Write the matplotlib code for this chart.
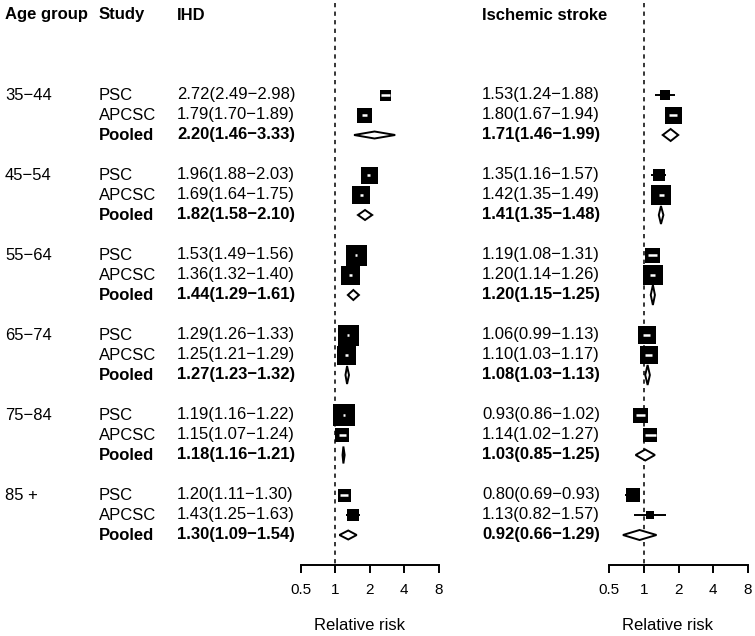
import numpy as np
import matplotlib.pyplot as plt

plt.rcParams['font.family'] = ['Liberation Sans', 'DejaVu Sans']

age_groups = ["35\u221244", "45\u221254", "55\u221264", "65\u221274", "75\u221284", "85 +"]
studies = ["PSC", "APCSC", "Pooled"]

# IHD: estimate, lower, upper (PSC, APCSC, Pooled per age group)
ihd_est = [2.72, 1.79, 2.20, 1.96, 1.69, 1.82, 1.53, 1.36, 1.44,
           1.29, 1.25, 1.27, 1.19, 1.15, 1.18, 1.20, 1.43, 1.30]
ihd_lo = [2.49, 1.70, 1.46, 1.88, 1.64, 1.58, 1.49, 1.32, 1.29,
          1.26, 1.21, 1.23, 1.16, 1.07, 1.16, 1.11, 1.25, 1.09]
ihd_hi = [2.98, 1.89, 3.33, 2.03, 1.75, 2.10, 1.56, 1.40, 1.61,
          1.33, 1.29, 1.32, 1.22, 1.24, 1.21, 1.30, 1.63, 1.54]

# Ischemic stroke
isc_est = [1.53, 1.80, 1.71, 1.35, 1.42, 1.41, 1.19, 1.20, 1.20,
           1.06, 1.10, 1.08, 0.93, 1.14, 1.03, 0.80, 1.13, 0.92]
isc_lo = [1.24, 1.67, 1.46, 1.16, 1.35, 1.35, 1.08, 1.14, 1.15,
          0.99, 1.03, 1.03, 0.86, 1.02, 0.85, 0.69, 0.82, 0.66]
isc_hi = [1.88, 1.94, 1.99, 1.57, 1.49, 1.48, 1.31, 1.26, 1.25,
          1.13, 1.17, 1.13, 1.02, 1.27, 1.25, 0.93, 1.57, 1.29]

# box / diamond heights (px) as drawn
ihd_size = [11, 15, 7, 17, 18, 10, 21, 19, 10, 21, 19, 18, 22, 14, 17, 13, 12, 9]
isc_size = [10, 17, 12, 12, 20, 18, 15, 20, 20, 18, 18, 20, 15, 14, 11, 14, 8, 10]

ticks = [0.5, 1, 2, 4, 8]

W, H = 755, 636
fig = plt.figure(figsize=(W / 100, H / 100), dpi=100)

# rows: pixel y = 15 + 20 * row
row_top = -15 / 20
row_bot = (H - 15) / 20
bg = fig.add_axes([0, 0, 1, 1])
bg.set_xlim(0, W)
bg.set_ylim(row_bot, row_top)
bg.axis('off')

rows = []
for g in range(len(age_groups)):
    for s in range(3):
        rows.append(4 + 4 * g + s)

fs = 12
bg.text(5, 0, "Age group", fontsize=fs, fontweight='bold', va='center')
bg.text(99, 0, "Study", fontsize=fs, fontweight='bold', va='center')
bg.text(177, 0, "IHD", fontsize=fs, fontweight='bold', va='center')
bg.text(482, 0, "Ischemic stroke", fontsize=fs, fontweight='bold', va='center')

for i, r in enumerate(rows):
    g, s = divmod(i, 3)
    bold = 'bold' if s == 2 else 'normal'
    if s == 0:
        bg.text(5, r, age_groups[g], fontsize=fs, va='center')
    bg.text(99, r, studies[s], fontsize=fs, va='center', fontweight=bold)
    bg.text(177, r, f"{ihd_est[i]:.2f}({ihd_lo[i]:.2f}\u2212{ihd_hi[i]:.2f})",
            fontsize=fs, va='center', fontweight=bold)
    bg.text(482, r, f"{isc_est[i]:.2f}({isc_lo[i]:.2f}\u2212{isc_hi[i]:.2f})",
            fontsize=fs, va='center', fontweight=bold)


def panel(x0, x1, est, lo, hi, size):
    ax = fig.add_axes([x0 / W, 0, (x1 - x0) / W, 1])
    ax.set_xscale('log', base=2)
    ax.set_xlim(0.5, 8)
    ax.set_ylim(row_bot, row_top)
    ax.patch.set_visible(False)
    for sp in ['top', 'left', 'right']:
        ax.spines[sp].set_visible(False)
    ax.spines['bottom'].set_position(('data', 27.5))
    ax.spines['bottom'].set_linewidth(1.4)
    ax.set_yticks([])
    ax.set_xticks(ticks)
    ax.set_xticklabels([f"{t:g}" for t in ticks])
    ax.xaxis.set_minor_locator(plt.NullLocator())
    ax.tick_params(axis='x', direction='out', length=5.8, width=1.4,
                   labelsize=11, pad=7)
    ax.plot([1, 1], [-0.6, 27.5], color='black', lw=1.1,
            linestyle=(0, (2.8, 2.8)), zorder=1)
    lg = np.log2
    for i, r in enumerate(rows):
        sz = size[i]
        if i % 3 == 2:
            h = sz / 20 / 2
            xs = [lo[i], est[i], hi[i], est[i], lo[i]]
            ys = [r, r - h, r, r + h, r]
            ax.fill(xs, ys, facecolor='white', edgecolor='black', lw=1.4,
                    zorder=3, clip_on=False)
        else:
            # CI narrower than the box is drawn in white on top of it
            px_lo = lg(est[i] / lo[i]) * 34.6
            px_hi = lg(hi[i] / est[i]) * 34.6
            inside = max(px_lo, px_hi) < sz / 2
            ax.scatter([est[i]], [r], marker='s', s=(sz * 0.72) ** 2,
                       color='black', linewidths=0, zorder=3, clip_on=False)
            ax.plot([lo[i], hi[i]], [r, r], color='white' if inside else 'black',
                    lw=1.8 if inside else 1.4, zorder=4 if inside else 2,
                    solid_capstyle='butt', clip_on=False)
    return ax


panel(300.5, 439, ihd_est, ihd_lo, ihd_hi, ihd_size)
panel(609, 748, isc_est, isc_lo, isc_hi, isc_size)

bg.text(360, (626 - 15) / 20, "Relative risk", fontsize=fs, ha='center', va='center')
bg.text(668, (626 - 15) / 20, "Relative risk", fontsize=fs, ha='center', va='center')

fig.savefig("out.png", dpi=100)
